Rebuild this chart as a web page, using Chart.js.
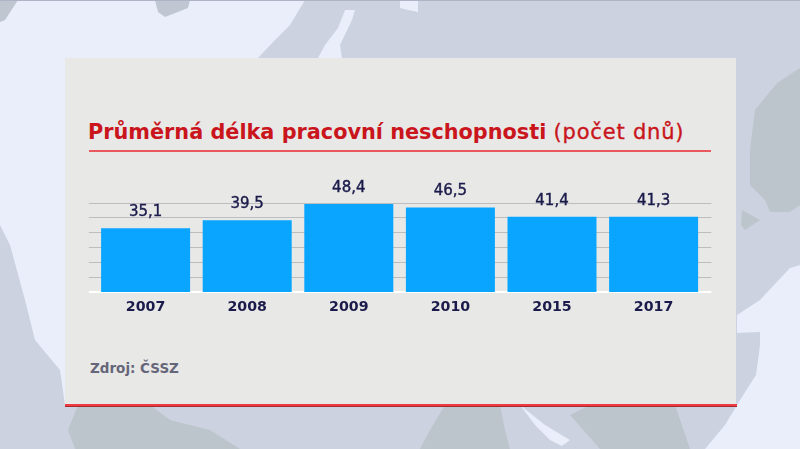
<!DOCTYPE html>
<html lang="cs">
<head>
<meta charset="utf-8">
<title>Průměrná délka pracovní neschopnosti</title>
<script src="https://cdn.jsdelivr.net/npm/chart.js@4"></script>
<style>
html,body{margin:0;padding:0;width:800px;height:449px;overflow:hidden;background:#e9eefa;font-family:"DejaVu Sans",sans-serif}
#bg{position:absolute;left:0;top:0;width:800px;height:449px}
#panel{position:absolute;left:65px;top:58px;width:671px;height:346px;background:#e8e8e7}
#redline{position:absolute;left:65px;top:404px;width:672px;height:3px;background:linear-gradient(#ee3a40 0 55%,#a52a30 55% 100%)}
#title{position:absolute;left:88px;top:117px;font-size:20.8px;line-height:30px;color:#c9151b;white-space:nowrap;font-weight:700}
#title span{font-weight:400;font-size:21px;letter-spacing:0.8px;-webkit-text-stroke:0.35px #c9151b}
#rule{position:absolute;left:89px;top:150px;width:622px;height:2px;background:#e9585c}
#source{position:absolute;left:90px;top:359px;font-size:13.5px;line-height:18px;font-weight:700;color:#66667a;white-space:nowrap}
#chart{position:absolute;left:0;top:0;width:800px;height:449px}
</style>
</head>
<body>
<svg id="bg" viewBox="0 0 800 449" aria-hidden="true">
  <rect width="800" height="449" fill="#e9eefa"/>
  <path fill="#ccd2df" d="M305 0L800 0L800 265L790 268L760 300L737 315L737 333L760 332L760 345L756 375L740 400L725 425L705 449L0 449L0 225L10 245L25 300L35 340L60 370L65 405L330 405L330 58L258 58L275 40L290 25Z"/>
  <path fill="#e9eefa" d="M345 10L355 10L352 20L340 45L342 58L318 58L325 45L338 28Z"/>
  <path fill="#e9eefa" d="M400 0L418 0L418 12L408 10L400 8Z"/>
  <path fill="#e9eefa" d="M520 405L545 425L570 440L562 446L550 440L535 425Z"/>
  <path fill="#bfc6d0" d="M0 0L18 0L5 20L0 22Z"/>
  <path fill="#c0c7d3" d="M155 0L190 0L188 8L165 17L158 12Z"/>
  <path fill="#bcc5cc" d="M800 68L777 83L755 110L750 150L750 185L765 200L770 212L790 212L800 205Z"/>
  <path fill="#bcc5cc" d="M742 210L760 220L745 230L741 225Z"/>
  <path fill="#bcc5cc" d="M78 405L68 430L75 449L240 449L210 430L190 425L170 420L150 405Z"/>
  <path fill="#bcc5cc" d="M445 405L500 405L505 430L510 449L420 449L430 430Z"/>
  <path fill="#bcc5cc" d="M570 415L590 405L675 405L690 449L600 449Z"/>
  <rect width="800" height="1" fill="#aeb4c6"/>
</svg>
<div id="panel"></div>
<div id="redline"></div>
<div id="title">Průměrná délka pracovní neschopnosti <span>(počet dnů)</span></div>
<div id="rule"></div>
<div id="source">Zdroj: ČSSZ</div>
<canvas id="chart" width="800" height="449"></canvas>
<script>
const categories = ["2007", "2008", "2009", "2010", "2015", "2017"];
const days = [35.1, 39.5, 48.4, 46.5, 41.4, 41.3];
const valueLabels = ["35,1", "39,5", "48,4", "46,5", "41,4", "41,3"];
const axisMax = 49.2;
const axisStep = 8.2;

const gridPlugin = {
  id: "wideGrid",
  beforeDatasetsDraw(chart) {
    const c = chart.ctx, y = chart.scales.y, a = chart.chartArea;
    c.save();
    y.ticks.forEach(t => {
      const py = Math.round(y.getPixelForValue(t.value)) + 0.5;
      c.beginPath();
      c.moveTo(a.left - 6, t.value === 0 ? py - 0.5 : py);
      c.lineTo(a.right + 7, t.value === 0 ? py - 0.5 : py);
      c.lineWidth = t.value === 0 ? 2 : 1;
      c.strokeStyle = t.value === 0 ? "#ffffff" : "#bdbdbf";
      c.stroke();
    });
    c.restore();
  }
};
const valuePlugin = {
  id: "valueLabels",
  afterDatasetsDraw(chart) {
    const c = chart.ctx;
    c.save();
    c.font = "15px 'DejaVu Sans'";
    c.fillStyle = "#1b1b4b";
    c.strokeStyle = "#1b1b4b";
    c.lineWidth = 0.4;
    c.textAlign = "center";
    c.textBaseline = "middle";
    chart.getDatasetMeta(0).data.forEach((bar, i) => {
      c.fillText(valueLabels[i], bar.x, bar.y - 16);
      c.strokeText(valueLabels[i], bar.x, bar.y - 16);
    });
    c.restore();
  }
};

new Chart(document.getElementById("chart"), {
  type: "bar",
  data: {
    labels: categories,
    datasets: [{ data: days, backgroundColor: "#0aa5ff", borderWidth: 0, barPercentage: 0.876, categoryPercentage: 1 }]
  },
  plugins: [gridPlugin, valuePlugin],
  options: {
    responsive: false,
    animation: false,
    layout: { padding: { left: 94.8, right: 95.6, top: 202.5, bottom: 0 } },
    plugins: { legend: { display: false }, title: { display: false }, tooltip: { enabled: false } },
    scales: {
      x: {
        grid: { display: false },
        border: { display: false },
        ticks: { color: "#1b1b4b", font: { family: "DejaVu Sans", size: 14.2, weight: "bold" }, padding: -1, maxRotation: 0 },
        afterFit(s) { s.height = 157; }
      },
      y: {
        display: false,
        min: 0,
        max: axisMax,
        ticks: { stepSize: axisStep, autoSkip: false }
      }
    }
  }
});
</script>
</body>
</html>
